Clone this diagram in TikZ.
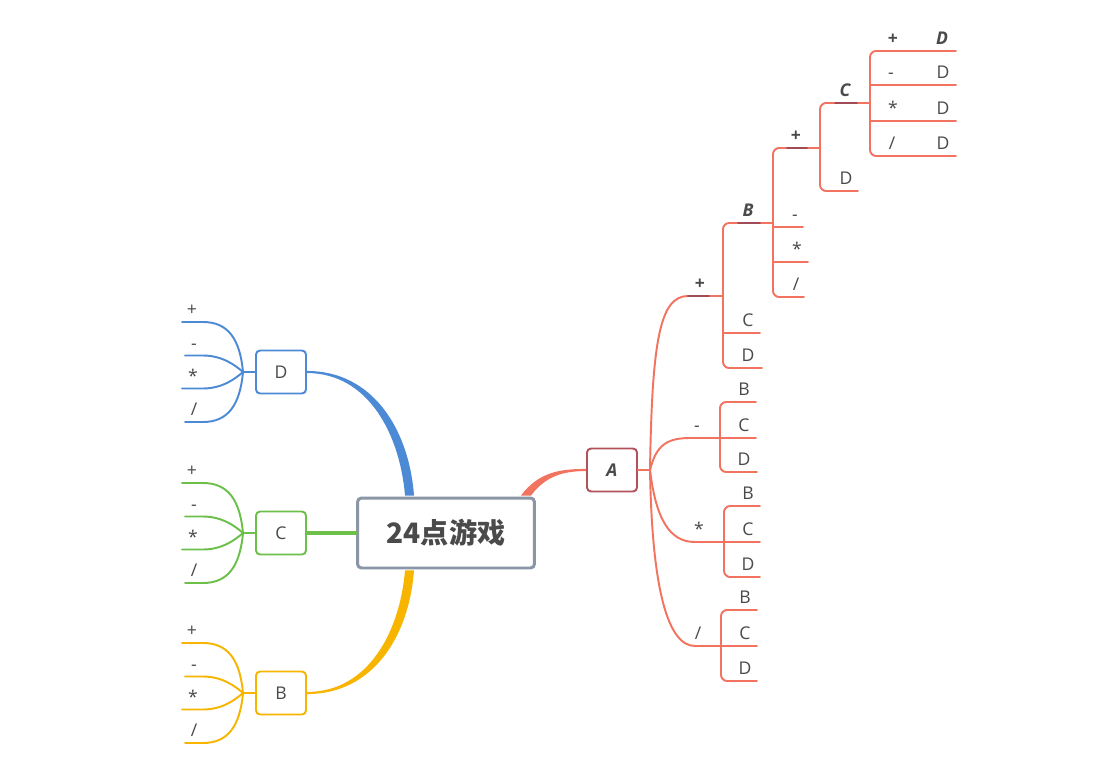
\documentclass[tikz,border=0pt]{standalone}
\usepackage{fontspec}
\setmainfont{Open Sans}
\newfontfamily\cjk{Noto Sans CJK SC}
\usetikzlibrary{calc}
\definecolor{redc}{HTML}{F2735F}
\definecolor{darkred}{HTML}{A04B55}
\definecolor{aframe}{HTML}{B0515C}
\definecolor{rootframe}{HTML}{8A96A6}
\definecolor{blu}{HTML}{4C8AD6}
\definecolor{grn}{HTML}{6CC049}
\definecolor{ylw}{HTML}{F7B500}
\definecolor{txt}{HTML}{4A4A4A}

\begin{document}
\begin{tikzpicture}[x=0.02cm, y=-0.02cm, line cap=round,
  topic/.style={draw, rounded corners=0.08cm, line width=1.1pt, fill=white, minimum width=1cm,
    minimum height=0.86cm, inner sep=0pt, text=txt, font=\fontsize{10}{12}\selectfont},
  rootbox/.style={draw=rootframe, rounded corners=0.08cm, line width=1.7pt, fill=white,
    minimum width=3.54cm, minimum height=1.4cm, inner sep=0pt, text=txt,
    font=\fontsize{16}{18}\selectfont\cjk\bfseries},
  lbl/.style={anchor=base, inner sep=0pt, text=txt, font=\fontsize{10}{12}\selectfont},
  blbl/.style={lbl, font=\fontsize{10}{12}\selectfont\bfseries},
  bilbl/.style={lbl, font=\fontsize{10}{12}\selectfont\bfseries\itshape},
  br/.style={draw=redc, line width=1.1pt},
  ul/.style={draw=darkred, line width=1.1pt},
  fanline/.style={line width=1.1pt}]
\useasboundingbox[fill=white] (0,0) rectangle (1108,767);
% central topic and main branches
\node[rootbox] (root) at (446,533) {24点游戏};
\node[topic, draw=aframe, font=\fontsize{10}{12}\selectfont\bfseries\itshape] (A) at (612,470) {A};
\foreach \col/\yy/\nm in {blu/372/D, grn/533/C, ylw/693/B}
  \node[topic, draw=\col] (\nm) at (281,\yy) {\nm};
\fill[blu] ([yshift=0.6pt]D.east) .. controls +(66,0) and +(-5,-66) .. ($(root.north)+(-32,-1)$)
  -- ($(root.north)+(-41,-1)$) .. controls +(-5,-60) and +(62,0) .. ([yshift=-0.6pt]D.east) -- cycle;
\fill[ylw] ([yshift=-0.6pt]B.east) .. controls +(66,0) and +(-5,66) .. ($(root.south)+(-32,1)$)
  -- ($(root.south)+(-41,1)$) .. controls +(-5,60) and +(62,0) .. ([yshift=0.6pt]B.east) -- cycle;
\fill[redc] ($(root.north)+(75,-1)$) .. controls +(18,-24) and +(-25,0) .. ([yshift=0.6pt]A.west)
  -- ([yshift=-0.6pt]A.west) .. controls +(-22,0) and +(15,-20) .. ($(root.north)+(85,-1)$) -- cycle;
\draw[grn, line width=1.8pt] (C.east) -- (root.west);
% left fans: colour, junction y, topic
\newcommand{\fan}[3]{
  \coordinate (#3j) at (243,#2);
  \draw[#1, fanline] (#3.west) -- (#3j) .. controls (240,#2-33) and (228,#2-50) .. (203,#2-50) -- (182,#2-50);
  \draw[#1, fanline] (#3j) .. controls (235,#2-7) and (222,#2-16.5) .. (203,#2-16.5) -- (185,#2-16.5);
  \draw[#1, fanline] (#3j) .. controls (235,#2+7) and (222,#2+16.5) .. (203,#2+16.5) -- (182,#2+16.5);
  \draw[#1, fanline] (#3j) .. controls (240,#2+33) and (228,#2+50) .. (203,#2+50) -- (185,#2+50);
  \node[lbl] (#3l1) at (192,#2-56.5) {+};
  \node[lbl] (#3l2) at (194,#2-23) {-};
  \node[lbl] (#3l3) at (193,#2+10) {*};
  \node[lbl] (#3l4) at (194,#2+43.5) {/};}
\foreach \col/\yy/\nm in {blu/372/D, grn/533/C, ylw/693/B} {\fan{\col}{\yy}{\nm}}
% right side brackets: x, top y, bottom y, top end, bottom end
\newcommand{\brkt}[5]{\draw[br, rounded corners=3.5pt] (#4,#2) -- (#1,#2) -- (#1,#3) -- (#5,#3);}
\coordinate (aj) at (650,470);
\draw[br] (A.east) -- (aj);
% A / +
\draw[br] (aj) .. controls (652,340) and (660,296) .. (688,296) -- (723,296);
\draw[ul] (688,296) -- (709,296);
\node[blbl] (ap) at (700,289.5) {+};
\brkt{723}{223}{368}{773}{762}
\draw[br] (723,333) -- (760,333);
\draw[ul] (738,223) -- (760,223);
\node[bilbl] (apB) at (748,216.5) {B};
\node[lbl] (apC) at (748,326.5) {C};
\node[lbl] (apD) at (748,361.5) {D};
% A / + / B
\brkt{773}{148}{297}{820}{804}
\draw[br] (773,227) -- (803,227);
\draw[br] (773,262) -- (808,262);
\draw[ul] (787,148) -- (807,148);
\node[blbl] (apBp) at (796,141.5) {+};
\node[lbl] (apBm) at (795,220.5) {-};
\node[lbl] (apBt) at (797,255.5) {*};
\node[lbl] (apBd) at (796,290.5) {/};
% A / + / B / +
\brkt{820}{103}{191}{870}{858}
\draw[ul] (835,103) -- (857,103);
\node[bilbl] (apBpC) at (845,96.5) {C};
\node[lbl] (apBpD) at (846,184.5) {D};
% A / + / B / + / C
\brkt{870}{51}{156}{956}{956}
\draw[br] (870,85) -- (956,85);
\draw[br] (870,121) -- (956,121);
\node[blbl] (cp) at (893,44.5) {+};
\node[bilbl] (cpD) at (942,44.5) {D};
\node[lbl] (cm) at (891,78.5) {-};
\node[lbl] (cmD) at (943,78.5) {D};
\node[lbl] (ct) at (893,114.5) {*};
\node[lbl] (ctD) at (943,114.5) {D};
\node[lbl] (cd) at (892,149.5) {/};
\node[lbl] (cdD) at (943,149.5) {D};
% A / -
\draw[br] (aj) .. controls (656,446) and (666,438) .. (690,438) -- (756,438);
\brkt{720}{402}{472}{756}{757}
\node[lbl] (am) at (697,431.5) {-};
\node[lbl] (amB) at (744,395.5) {B};
\node[lbl] (amC) at (744,431.5) {C};
\node[lbl] (amD) at (744,465.5) {D};
% A / *
\draw[br] (aj) .. controls (656,520) and (670,542) .. (695,542) -- (760,542);
\brkt{724}{506}{577}{760}{760}
\node[lbl] (at) at (699,535.5) {*};
\node[lbl] (atB) at (748,499.5) {B};
\node[lbl] (atC) at (748,535.5) {C};
\node[lbl] (atD) at (748,570.5) {D};
% A / /
\draw[br] (aj) .. controls (652,590) and (668,646) .. (695,646) -- (757,646);
\brkt{721}{610}{681}{757}{757}
\node[lbl] (ad) at (698,639.5) {/};
\node[lbl] (adB) at (745,603.5) {B};
\node[lbl] (adC) at (745,639.5) {C};
\node[lbl] (adD) at (745,674.5) {D};
\end{tikzpicture}
\end{document}
